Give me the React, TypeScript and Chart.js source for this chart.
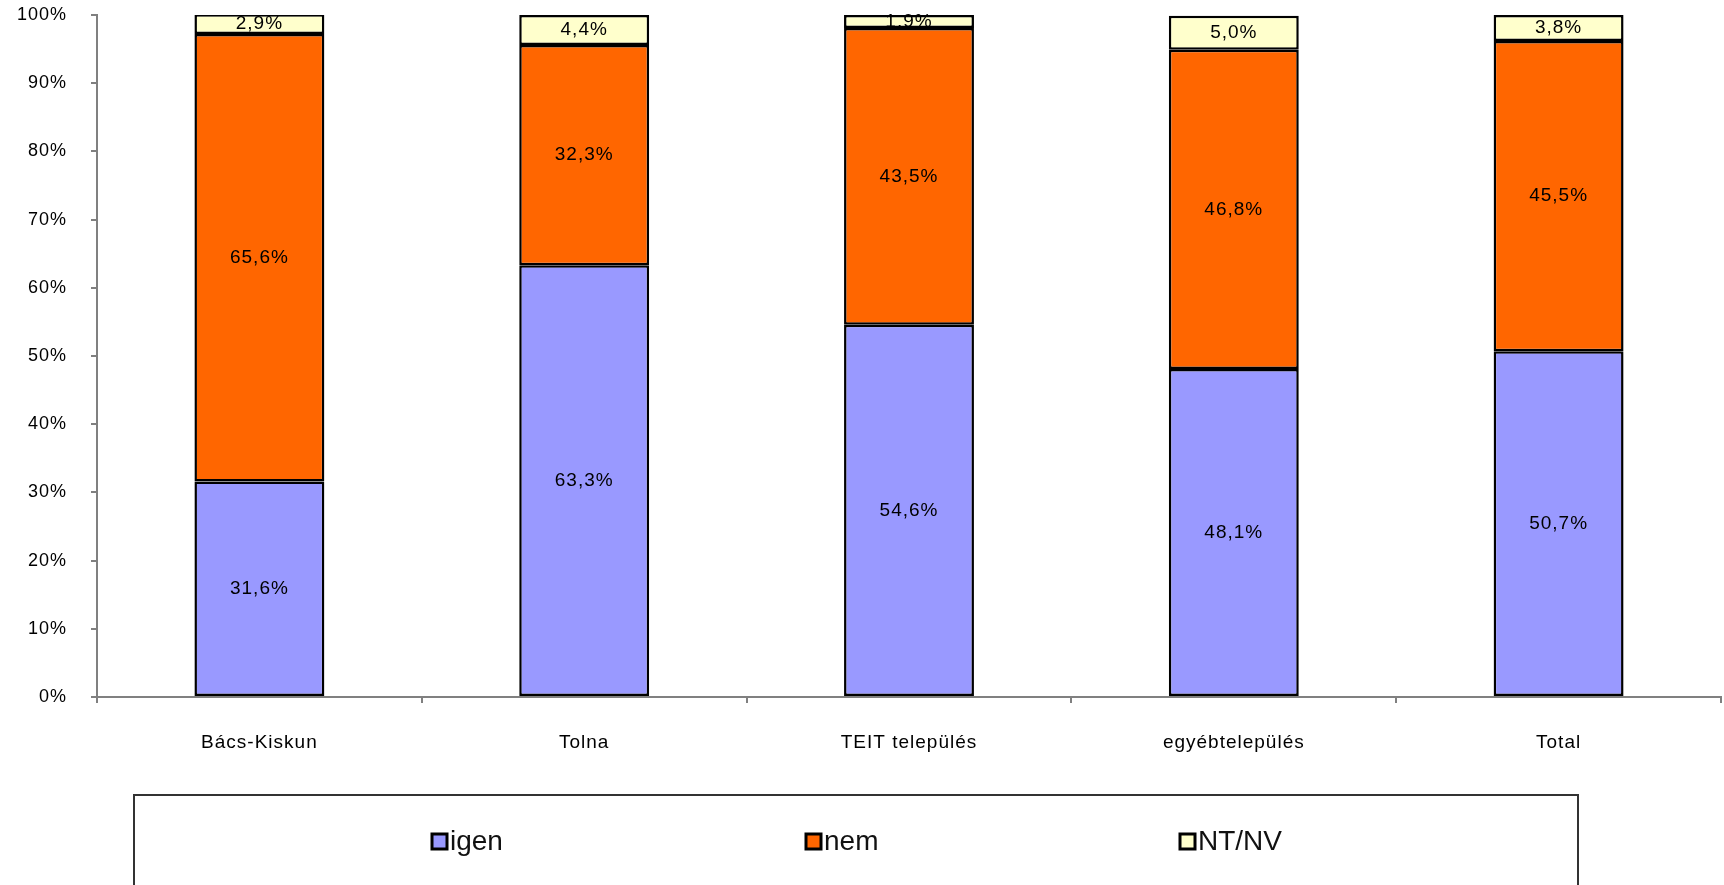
import React, { useEffect, useRef } from "react";
import { Chart, registerables } from "chart.js";

Chart.register(...registerables);

const categories = ["Bács-Kiskun", "Tolna", "TEIT település", "egyébtelepülés", "Total"];
const igenValues = [31.6, 63.3, 54.6, 48.1, 50.7];
const nemValues = [65.6, 32.3, 43.5, 46.8, 45.5];
const ntnvValues = [2.9, 4.4, 1.9, 5.0, 3.8];
const seriesNames = ["igen", "nem", "NT/NV"];
const seriesColors = ["#9999FF", "#FF6600", "#FFFFCC"];

const FONT = "'Liberation Sans', Arial, sans-serif";

const fmt = (v: number) => v.toFixed(1).replace(".", ",") + "%";

const spacingPlugin = {
  id: "spacing",
  beforeLayout(chart: any) {
    (chart.ctx as any).letterSpacing = "1px";
  },
  beforeDraw(chart: any) {
    (chart.ctx as any).letterSpacing = "1px";
  },
};

const dataLabelPlugin = {
  id: "dataLabels",
  afterDatasetsDraw(chart: any) {
    const ctx = chart.ctx;
    ctx.save();
    (ctx as any).letterSpacing = "1px";
    ctx.font = `19px ${FONT}`;
    ctx.fillStyle = "#000";
    ctx.textAlign = "center";
    ctx.textBaseline = "middle";
    chart.data.datasets.forEach((ds: any, di: number) => {
      const meta = chart.getDatasetMeta(di);
      meta.data.forEach((el: any, i: number) => {
        const v = ds.data[i];
        const cy = (el.y + el.base) / 2;
        ctx.fillText(fmt(v), el.x, cy);
      });
    });
    ctx.restore();
  },
};

const legendPlugin = {
  id: "boxLegend",
  afterDraw(chart: any) {
    const ctx = chart.ctx;
    ctx.save();
    (ctx as any).letterSpacing = "0px";
    ctx.strokeStyle = "#333";
    ctx.lineWidth = 2;
    ctx.strokeRect(134, 795, 1444, 120);
    const startX = 432;
    const step = 374;
    const cy = 842;
    ctx.font = `28px ${FONT}`;
    ctx.textBaseline = "middle";
    ctx.textAlign = "left";
    chart.data.datasets.forEach((ds: any, i: number) => {
      const x = startX + i * step;
      ctx.fillStyle = ds.backgroundColor;
      ctx.fillRect(x, cy - 8, 15, 15);
      ctx.strokeStyle = "#000";
      ctx.lineWidth = 3;
      ctx.strokeRect(x, cy - 8, 15, 15);
      ctx.fillStyle = "#111";
      ctx.fillText(ds.label, x + 18, cy);
    });
    ctx.restore();
  },
};

export default function App() {
  const ref = useRef<HTMLCanvasElement | null>(null);

  useEffect(() => {
    if (!ref.current) return;
    const chart = new Chart(ref.current, {
      type: "bar",
      data: {
        labels: categories,
        datasets: [igenValues, nemValues, ntnvValues].map((d, i) => ({
          label: seriesNames[i],
          data: d,
          backgroundColor: seriesColors[i],
          borderColor: "#000",
          borderWidth: 2.5,
          borderSkipped: false,
          barPercentage: 0.8,
          categoryPercentage: 0.5,
        })),
      },
      options: {
        animation: false,
        responsive: true,
        maintainAspectRatio: false,
        devicePixelRatio: 1,
        layout: { padding: { top: 15, right: 3, left: 0, bottom: 0 } },
        plugins: {
          legend: { display: false },
          tooltip: { enabled: false },
        },
        scales: {
          x: {
            stacked: true,
            offset: true,
            border: { display: true, color: "#808080", width: 2 },
            grid: {
              display: true,
              offset: true,
              drawOnChartArea: false,
              drawTicks: true,
              tickLength: 6,
              color: "#808080",
              lineWidth: 2,
            },
            ticks: {
              color: "#000",
              font: { family: FONT, size: 19 },
              padding: 28,
              maxRotation: 0,
              autoSkip: false,
            },
            afterFit(scale: any) {
              scale.height = 885 - 697;
              scale.paddingLeft = 0;
              scale.paddingRight = 0;
            },
          },
          y: {
            stacked: true,
            min: 0,
            max: 100,
            border: { display: true, color: "#808080", width: 2 },
            grid: {
              display: true,
              drawOnChartArea: false,
              drawTicks: true,
              tickLength: 6,
              color: "#808080",
              lineWidth: 2,
            },
            ticks: {
              stepSize: 10,
              color: "#000",
              font: { family: FONT, size: 18 },
              padding: 24,
              callback: (v: any) => `${v}%`,
            },
            afterFit(scale: any) {
              scale.width = 97;
              scale.paddingTop = 0;
              scale.paddingBottom = 0;
            },
          },
        },
      },
      plugins: [spacingPlugin, dataLabelPlugin, legendPlugin],
    });
    return () => chart.destroy();
  }, []);

  return (
    <div
      style={{
        position: "absolute",
        left: 0,
        top: 0,
        width: 1724,
        height: 885,
        background: "#fff",
        overflow: "hidden",
      }}
    >
      <canvas ref={ref} />
    </div>
  );
}
